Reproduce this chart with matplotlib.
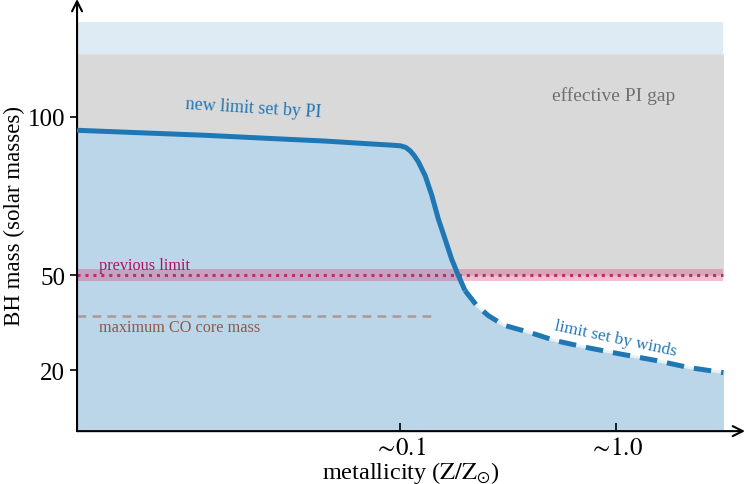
import numpy as np
import matplotlib
matplotlib.use("Agg")
import matplotlib.pyplot as plt

plt.rcParams["font.family"] = ["Liberation Serif", "DejaVu Serif"]
plt.rcParams["mathtext.fontset"] = "stix"

# limit curve (log10 metallicity, BH mass)
pi_logz = [-2.50, -2.20, -1.90, -1.60, -1.35, -1.14, -1.04, -1.0, -0.975, -0.954,
           -0.935, -0.915, -0.884, -0.853, -0.823, -0.792, -0.761, -0.731, -0.699]
pi_mass = [95.8, 95.0, 94.2, 93.2, 92.4, 91.5, 91.1, 90.9, 90.4, 89.3,
           87.8, 85.7, 81.4, 75.1, 67.7, 61.4, 55.0, 50.0, 45.1]
wind_logz = [-0.699, -0.645, -0.591, -0.52, -0.40, -0.28, -0.14, 0.02, 0.19, 0.34, 0.50]
wind_mass = [45.1, 40.4, 37.2, 34.2, 31.9, 29.3, 27.2, 25.1, 23.0, 20.8, 19.2]

prev_limit = 50
prev_width = 1.9
co_core = 37
co_end_logz = -0.85
gap_top = 120
band_top = 130

xticks = [0.1, 1.0]
xticklabels = [r"$\sim\!0.1$", r"$\sim\!1.0$"]
yticks = [20, 50, 100]

blue = "#1f77b4"

z_pi = 10 ** np.array(pi_logz)
z_wind = 10 ** np.array(wind_logz)
z_all = np.concatenate([z_pi, z_wind[1:]])
m_all = np.concatenate([pi_mass, wind_mass[1:]])

fig = plt.figure(figsize=(7.48, 4.85), dpi=100)
ax = fig.add_axes([0.103, 0.109, 0.893, 0.891])
ax.set_xscale("log")
ax.set_xlim(10 ** -2.5, 10 ** 0.6)
ax.set_ylim(0.7, 137.3)

ax.fill_between(z_all, 0, m_all, color="#bcd6e9", lw=0, zorder=1)
ax.fill_between(z_all, np.maximum(m_all, prev_limit), gap_top, color="#d9d9d9", lw=0, zorder=1)
ax.fill_between(z_all, gap_top, band_top, color="#deebf5", lw=0, zorder=1)

# previous limit band
ax.fill_between(z_all, prev_limit - prev_width, prev_limit + prev_width,
                color="#d0306a", alpha=0.3, lw=0, zorder=2)
ax.plot([z_all[0], z_all[-1]], [prev_limit, prev_limit], color="#b8306a",
        lw=2.2, ls=(0, (1, 1.6)), zorder=3)

ax.plot([z_all[0], 10 ** co_end_logz], [co_core, co_core], color="#a89a9a",
        lw=1.8, ls=(0, (3.5, 2.5)), zorder=3)

ax.plot(z_wind, wind_mass, color="#e8f0f7", lw=2, zorder=4)
ax.plot(z_pi, pi_mass, color=blue, lw=3.6, solid_capstyle="butt",
        solid_joinstyle="round", zorder=5)
ax.plot(z_wind, wind_mass, color=blue, lw=3.6, ls=(0, (3.5, 2)), zorder=5)

ax.text(10 ** -1.68, 98.8, "new limit set by PI", color=blue, fontsize=13,
        ha="center", va="bottom", rotation=-3.5)
ax.text(10 ** 0.0, 30.0, "limit set by winds", color=blue, fontsize=12.5,
        ha="center", va="center", rotation=-12)
ax.text(10 ** -0.009, 107, "effective PI gap", color="#707070", fontsize=14,
        ha="center", va="center")
ax.text(10 ** -2.40, 53.3, "previous limit", color="#b01060", fontsize=11.7,
        ha="left", va="center")
ax.text(10 ** -2.40, 33.6, "maximum CO core mass", color="#8b5a4a", fontsize=11.7,
        ha="left", va="center")

for s in ["top", "right", "left", "bottom"]:
    ax.spines[s].set_visible(False)
ax.annotate("", xy=(1.0, 0), xytext=(0, 0), xycoords="axes fraction",
            arrowprops=dict(arrowstyle="->", lw=1.5, color="black",
                            mutation_scale=18, shrinkA=0, shrinkB=0))
ax.annotate("", xy=(0, 1.0), xytext=(0, 0), xycoords="axes fraction",
            arrowprops=dict(arrowstyle="->", lw=1.5, color="black",
                            mutation_scale=18, shrinkA=0, shrinkB=0))

ax.set_xticks(xticks)
ax.set_xticklabels(xticklabels)
ax.xaxis.set_minor_locator(matplotlib.ticker.NullLocator())
ax.set_yticks(yticks)
ax.tick_params(axis="x", direction="in", length=6, width=1.2, labelsize=18, pad=4)
ax.tick_params(axis="y", direction="out", length=5, width=1.2, labelsize=18)
ax.set_xlabel(r"metallicity ($\mathrm{Z/Z_{\odot}}$)", fontsize=17.5, labelpad=0)
ax.set_ylabel("BH mass (solar masses)", fontsize=16.5, labelpad=2)

fig.savefig("out.png", dpi=100)
